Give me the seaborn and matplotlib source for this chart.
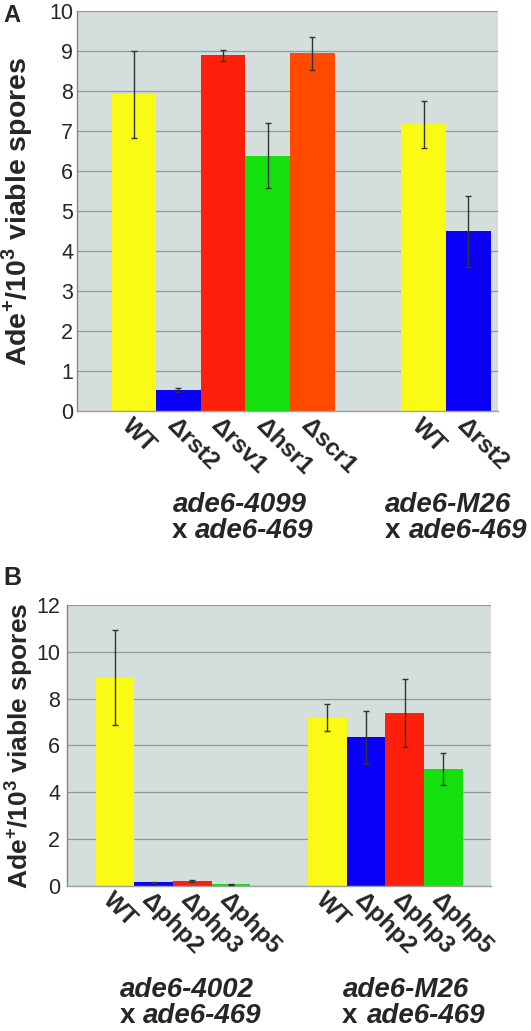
import matplotlib
matplotlib.use("Agg")
import matplotlib.pyplot as plt
import seaborn as sns
import pandas as pd
import numpy as np

# ---------------- data ----------------
a_groups = ["ade6-4099", "ade6-4099", "ade6-4099", "ade6-4099", "ade6-4099", "ade6-M26", "ade6-M26"]
a_labels = ["WT", "Δrst2", "Δrsv1", "Δhsr1", "Δscr1", "WT", "Δrst2"]
a_values = [7.92, 0.52, 8.89, 6.38, 8.94, 7.17, 4.49]
a_errors = [1.09, 0.05, 0.13, 0.81, 0.42, 0.59, 0.89]

b_groups = ["ade6-4002"] * 4 + ["ade6-M26"] * 4
b_labels = ["WT", "Δphp2", "Δphp3", "Δphp5", "WT", "Δphp2", "Δphp3", "Δphp5"]
b_values = [8.90, 0.14, 0.20, 0.06, 7.19, 6.34, 7.38, 4.98]
b_errors = [2.03, 0.03, 0.03, 0.02, 0.59, 1.14, 1.46, 0.68]

a_ticks = [0, 1, 2, 3, 4, 5, 6, 7, 8, 9, 10]
b_ticks = [0, 2, 4, 6, 8, 10, 12]

palette = {
    "WT": "#FAFA14",
    "Δrst2": "#0A00FA",
    "Δrsv1": "#FF200C",
    "Δhsr1": "#14E00E",
    "Δscr1": "#FF4A00",
    "Δphp2": "#0A00FA",
    "Δphp3": "#FF200C",
    "Δphp5": "#14E00E",
}

# ---------------- style ----------------
sns.set_style("white")
plt.rcParams["font.family"] = ["Liberation Sans", "DejaVu Sans"]
plt.rcParams["mathtext.fontset"] = "custom"
plt.rcParams["mathtext.rm"] = "Liberation Sans"
plt.rcParams["mathtext.bf"] = "Liberation Sans:bold"

W, H = 531, 1031
fig = plt.figure(figsize=(W / 100, H / 100), dpi=100)

def px_axes(l, t, r, b):
    return fig.add_axes([l / W, 1 - b / H, (r - l) / W, (b - t) / H])

ax_a = px_axes(77.3, 11, 497.7, 411)
ax_b = px_axes(67.3, 605, 491, 885.7)

FACE = "#D4DEDC"
GRID = "#8E9B99"
ERR = "#333333"


def positions(groups, gap):
    pos, cur, prev = [], 0.0, None
    for g in groups:
        if prev is not None:
            cur += 1.0 if g == prev else 1.0 + gap
        pos.append(cur)
        prev = g
    return pos


def draw(ax, groups, labels, values, errors, gap, xlim, ymax, ticks, ylab_x, ytick_pad, ylab_size):
    pos = positions(groups, gap)
    df = pd.DataFrame({"pos": pos, "label": labels, "value": values})
    sns.barplot(data=df, x="pos", y="value", hue="label", palette=palette,
                native_scale=True, width=1.0, dodge=False, legend=False,
                errorbar=None, linewidth=0, saturation=1, ax=ax, zorder=2)
    ax.errorbar(pos, values, yerr=errors, fmt="none", ecolor=ERR,
                elinewidth=1.0, capsize=2.2, capthick=1.0, zorder=3)
    ax.set_facecolor(FACE)
    ax.set_xlim(*xlim)
    ax.set_ylim(0, ymax)
    ax.set_yticks(ticks)
    ax.yaxis.grid(True, color=GRID, linewidth=0.9, zorder=0)
    ax.set_axisbelow(True)
    ax.xaxis.grid(False)
    for s in ["top", "right"]:
        ax.spines[s].set_visible(False)
    ax.spines["left"].set_color("#7E8A88")
    ax.spines["left"].set_linewidth(1.0)
    ax.spines["bottom"].set_color("#9AA4A2")
    ax.spines["bottom"].set_linewidth(1.0)
    ax.tick_params(axis="y", length=0, pad=ytick_pad, labelsize=15.5)
    ax.set_xticks(pos)
    ax.set_xticklabels(labels)
    ax.tick_params(axis="x", length=0, pad=2)
    for t in ax.get_xticklabels():
        t.set_rotation(-45)
        t.set_rotation_mode("anchor")
        t.set_ha("left")
        t.set_va("top")
        t.set_fontweight("bold")
        t.set_fontsize(17.5)
    ax.set_xlabel("")
    ax.set_ylabel(r"Ade$^{\mathbf{+}}$/10$^{\mathbf{3}}$ viable spores",
                  fontsize=ylab_size, fontweight="bold")
    ax.yaxis.set_label_coords(ylab_x, 0.5)
    return pos


draw(ax_a, a_groups, a_labels, a_values, a_errors, gap=1.5,
     xlim=(-1.27, 8.16), ymax=10, ticks=a_ticks, ylab_x=-0.1006, ytick_pad=3,
     ylab_size=20.5)
pos_b = draw(ax_b, b_groups, b_labels, b_values, b_errors, gap=1.5,
             xlim=(-1.235, 9.735), ymax=12, ticks=b_ticks, ylab_x=-0.076, ytick_pad=5,
             ylab_size=19)

# category boundary tick in panel B
ax_b.set_xticks([(pos_b[3] + pos_b[4]) / 2], minor=True)
ax_b.tick_params(axis="x", which="minor", length=4, color="#9AA4A2", width=1)

# ---------------- group labels ----------------
def fig_text(x, y, s, **kw):
    fig.text(x / W, 1 - y / H, s, va="baseline", ha="left", fontweight="bold", **kw)

GL = 20
group_label_specs = [
    (173, 512, 172, 195, 538, a_groups[0]),
    (385, 512, 385, 409, 538, a_groups[-1]),
    (120, 997, 120, 143, 1023, b_groups[0]),
    (343, 997, 342, 367, 1023, b_groups[-1]),
]
for x1, y1, xx, x2, y2, name in group_label_specs:
    fig_text(x1, y1, name, fontsize=GL, style="italic")
    fig_text(xx, y2, "x", fontsize=GL)
    fig_text(x2, y2, "ade6-469", fontsize=GL, style="italic")

# panel letters
fig_text(3, 22, "A", fontsize=17)
fig_text(3, 585, "B", fontsize=18)

fig.savefig("out.png", dpi=100)
